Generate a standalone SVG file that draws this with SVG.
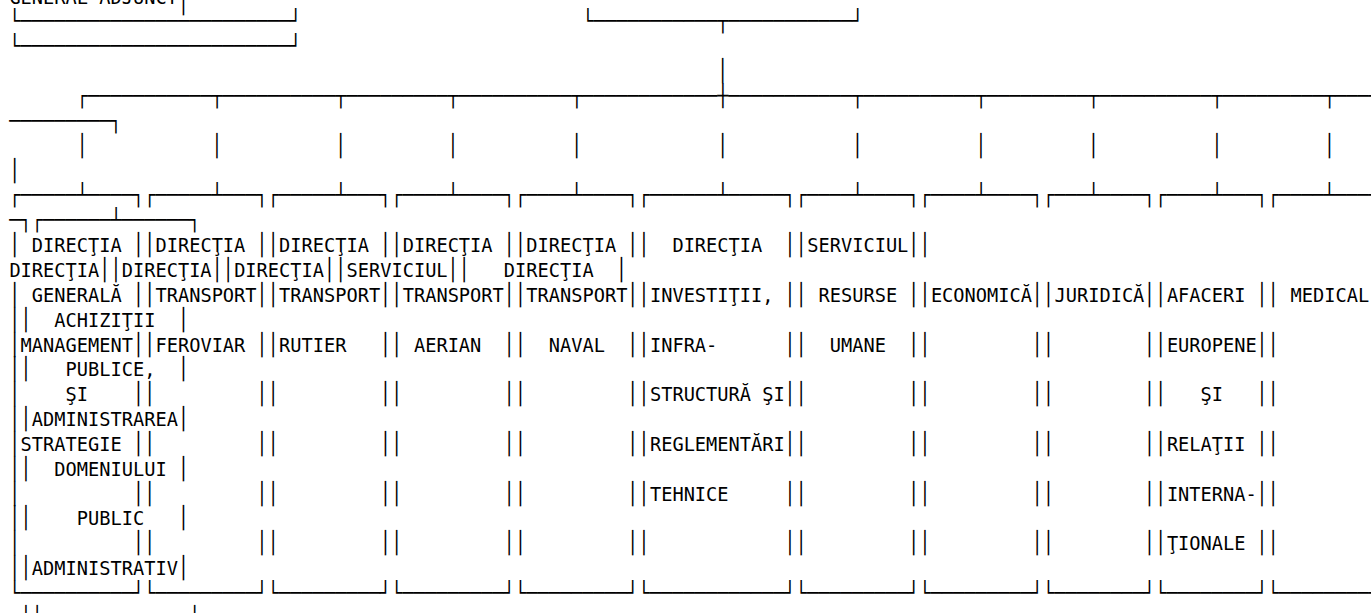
<svg xmlns="http://www.w3.org/2000/svg" xmlns:xlink="http://www.w3.org/1999/xlink" width="1371" height="613" viewBox="0 0 1371 613" xml:space="preserve">
<style>
.m{font-family:"DejaVu Sans Mono",monospace;font-size:18.667px;fill:#000;white-space:pre}
</style>
<defs>
<text id="l1" class="m" x="9.38" y="0">│          ││         ││         ││         ││         ││            ││         ││         ││        ││        ││</text>
<text id="l2" class="m" x="9.38" y="0">││             │</text>
</defs>
<rect width="1371" height="613" fill="#fff"/>
<g id="connectors">
<text class="m" transform="matrix(1 0 0 1.15 0 10)" x="177.95" y="0">│</text>
<text class="m" transform="matrix(1 0 0 1.15 0 28.4)" x="9.38" y="0">└────────────────────────┘</text>
<text class="m" transform="matrix(1 0 0 1.15 0 28.4)" x="582.52" y="0">└───────────┬───────────┘</text>
<text class="m" transform="matrix(1 0 0 1.15 0 53.3)" x="9.38" y="0">└────────────────────────┘</text>
<text class="m" transform="matrix(1 0 0 1.15 0 78.1)" x="717.37" y="0">│</text>
<text class="m" transform="matrix(1 0 0 1.15 0 103)" x="76.81" y="0">┌───────────┬──────────┬─────────┬──────────┬────────────┼───────────┬──────────┬─────────┬──────────┬─────────┬────</text>
<text class="m" transform="matrix(1 0 0 1.15 0 127.8)" x="9.38" y="0">─────────┐</text>
<text class="m" transform="matrix(1 0 0 1.15 0 152.7)" x="76.81" y="0">│           │          │         │          │            │           │          │         │          │         │</text>
<text class="m" transform="matrix(1 0 0 1.15 0 177.5)" x="9.38" y="0">│</text>
<text class="m" transform="matrix(1 0 0 1.15 0 202.4)" x="9.38" y="0">┌─────┴────┐┌─────┴───┐┌─────┴───┐┌────┴────┐┌────┴────┐┌──────┴─────┐┌────┴────┐┌────┴────┐┌───┴────┐┌────┴───┐┌────┴────</text>
<text class="m" transform="matrix(1 0 0 1.15 0 227.2)" x="9.38" y="0">─┐┌──────┴──────┐</text>
<text class="m" transform="matrix(1 0 0 1.15 0 252.1)" x="9.38" y="0">│          ││         ││         ││         ││         ││            ││         ││</text>
<text class="m" transform="matrix(1 0 0 1.15 0 276.9)" x="99.28" y="0">││        ││        ││         ││             │</text>
<use xlink:href="#l1" transform="matrix(1 0 0 1.15 0 301.8)"/>
<use xlink:href="#l2" transform="matrix(1 0 0 1.15 0 326.6)"/>
<use xlink:href="#l1" transform="matrix(1 0 0 1.15 0 351.5)"/>
<use xlink:href="#l2" transform="matrix(1 0 0 1.15 0 376.3)"/>
<use xlink:href="#l1" transform="matrix(1 0 0 1.15 0 401.2)"/>
<use xlink:href="#l2" transform="matrix(1 0 0 1.15 0 426)"/>
<use xlink:href="#l1" transform="matrix(1 0 0 1.15 0 450.9)"/>
<use xlink:href="#l2" transform="matrix(1 0 0 1.15 0 475.7)"/>
<use xlink:href="#l1" transform="matrix(1 0 0 1.15 0 500.6)"/>
<use xlink:href="#l2" transform="matrix(1 0 0 1.15 0 525.4)"/>
<use xlink:href="#l1" transform="matrix(1 0 0 1.15 0 550.3)"/>
<use xlink:href="#l2" transform="matrix(1 0 0 1.15 0 575.1)"/>
<text class="m" transform="matrix(1 0 0 1.15 0 600)" x="9.38" y="0">└──────────┘└─────────┘└─────────┘└─────────┘└─────────┘└────────────┘└─────────┘└─────────┘└────────┘└────────┘└─────────</text>
<use xlink:href="#l2" transform="matrix(1 0 0 1.15 11.238 624.8)"/>
</g>
<g id="node-header"><text class="m" x="9.38" y="3.6">GENERAL ADJUNCT</text></g>
<g id="node-second-row">
<text class="m" x="9.38" y="276.9">DIRECŢIA</text>
<text class="m" x="121.76" y="276.9">DIRECŢIA</text>
<text class="m" x="234.14" y="276.9">DIRECŢIA</text>
<text class="m" x="346.52" y="276.9">SERVICIUL</text>
<text class="m" x="503.85" y="276.9">DIRECŢIA</text>
</g>
<g id="node-achizitii">
<text class="m" x="54.33" y="326.6">ACHIZIŢII</text>
<text class="m" x="65.57" y="376.3">PUBLICE,</text>
<text class="m" x="31.86" y="426">ADMINISTRAREA</text>
<text class="m" x="54.33" y="475.7">DOMENIULUI</text>
<text class="m" x="76.81" y="525.4">PUBLIC</text>
<text class="m" x="31.86" y="575.1">ADMINISTRATIV</text>
</g>
<g id="node-dgmsp">
<text class="m" x="31.86" y="252.1">DIRECŢIA</text>
<text class="m" x="31.86" y="301.8">GENERALĂ</text>
<text class="m" x="20.62" y="351.5">MANAGEMENT</text>
<text class="m" x="65.57" y="401.2">ŞI</text>
<text class="m" x="20.62" y="450.9">STRATEGIE</text>
</g>
<g id="node-feroviar">
<text class="m" x="155.47" y="252.1">DIRECŢIA</text>
<text class="m" x="155.47" y="301.8">TRANSPORT</text>
<text class="m" x="155.47" y="351.5">FEROVIAR</text>
</g>
<g id="node-rutier">
<text class="m" x="279.09" y="252.1">DIRECŢIA</text>
<text class="m" x="279.09" y="301.8">TRANSPORT</text>
<text class="m" x="279.09" y="351.5">RUTIER</text>
</g>
<g id="node-aerian">
<text class="m" x="402.71" y="252.1">DIRECŢIA</text>
<text class="m" x="402.71" y="301.8">TRANSPORT</text>
<text class="m" x="413.95" y="351.5">AERIAN</text>
</g>
<g id="node-naval">
<text class="m" x="526.33" y="252.1">DIRECŢIA</text>
<text class="m" x="526.33" y="301.8">TRANSPORT</text>
<text class="m" x="548.8" y="351.5">NAVAL</text>
</g>
<g id="node-investitii">
<text class="m" x="672.42" y="252.1">DIRECŢIA</text>
<text class="m" x="649.95" y="301.8">INVESTIŢII,</text>
<text class="m" x="649.95" y="351.5">INFRA-</text>
<text class="m" x="649.95" y="401.2">STRUCTURĂ ŞI</text>
<text class="m" x="649.95" y="450.9">REGLEMENTĂRI</text>
<text class="m" x="649.95" y="500.6">TEHNICE</text>
</g>
<g id="node-resurse">
<text class="m" x="807.28" y="252.1">SERVICIUL</text>
<text class="m" x="818.52" y="301.8">RESURSE</text>
<text class="m" x="829.75" y="351.5">UMANE</text>
</g>
<g id="node-economica"><text class="m" x="930.9" y="301.8">ECONOMICĂ</text></g>
<g id="node-juridica"><text class="m" x="1054.51" y="301.8">JURIDICĂ</text></g>
<g id="node-afaceri">
<text class="m" x="1166.89" y="301.8">AFACERI</text>
<text class="m" x="1166.89" y="351.5">EUROPENE</text>
<text class="m" x="1200.61" y="401.2">ŞI</text>
<text class="m" x="1166.89" y="450.9">RELAŢII</text>
<text class="m" x="1166.89" y="500.6">INTERNA-</text>
<text class="m" x="1166.89" y="550.3">ŢIONALE</text>
</g>
<g id="node-medical"><text class="m" x="1290.51" y="301.8">MEDICAL</text></g>
</svg>
